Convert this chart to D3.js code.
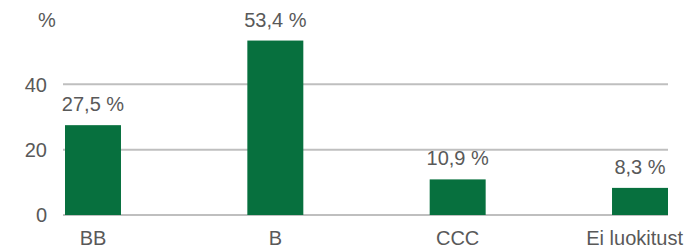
<!DOCTYPE html>
<html>
<head>
<meta charset="utf-8">
<script src="https://cdn.jsdelivr.net/npm/d3@7"></script>
<style>
  body { margin: 0; background: #fff; }
  svg text { font-family: "Liberation Sans", Arial, sans-serif; fill: #595959; }
  .grid line { stroke: #bfbfbf; stroke-width: 2; }
</style>
</head>
<body>
<svg id="chart" width="700" height="249"></svg>
<script>
var categories = ["BB", "B", "CCC", "Ei luokitust"];
var values = [27.5, 53.4, 10.9, 8.3];
var yTicks = [0, 20, 40];
var unitLabel = "%";

var width = 700, height = 249;
var svg = d3.select("#chart");

var x = d3.scaleBand().domain(categories).range([65, 668]).paddingInner(0.693).paddingOuter(0);
var y = d3.scaleLinear().domain([0, 60]).range([215, 19]);

// grid lines
svg.append("g").attr("class", "grid")
  .selectAll("line").data(yTicks).enter().append("line")
  .attr("x1", 63).attr("x2", 668)
  .attr("y1", function(d){ return y(d); })
  .attr("y2", function(d){ return y(d); });

// y axis labels
svg.append("g").selectAll("text").data(yTicks).enter().append("text")
  .attr("x", 47)
  .attr("y", function(d){ return y(d); })
  .attr("dy", "0.36em")
  .attr("text-anchor", "end")
  .style("font-size", "20px")
  .text(function(d){ return d; });

svg.append("text")
  .attr("x", 47).attr("y", 27)
  .attr("text-anchor", "middle")
  .style("font-size", "20px")
  .text(unitLabel);

// bars
svg.append("g").selectAll("rect").data(values).enter().append("rect")
  .attr("x", function(d, i){ return x(categories[i]); })
  .attr("width", x.bandwidth())
  .attr("y", function(d){ return y(d); })
  .attr("height", function(d){ return y(0) - y(d); })
  .attr("fill", "#07703e");

// value labels
svg.append("g").selectAll("text").data(values).enter().append("text")
  .attr("x", function(d, i){ return x(categories[i]) + x.bandwidth() / 2; })
  .attr("y", function(d){ return y(d) - 14; })
  .attr("text-anchor", "middle")
  .style("font-size", "20px")
  .text(function(d){ return d.toFixed(1).replace(".", ",") + " %"; });

// category labels, kept inside the right edge
svg.append("g").selectAll("text").data(categories).enter().append("text")
  .attr("y", 245)
  .attr("text-anchor", "middle")
  .style("font-size", "20px")
  .text(function(d){ return d; })
  .attr("x", function(d){
    var c = x(d) + x.bandwidth() / 2;
    var w = this.getComputedTextLength();
    return Math.min(c, 683 - w / 2);
  });
</script>
</body>
</html>
